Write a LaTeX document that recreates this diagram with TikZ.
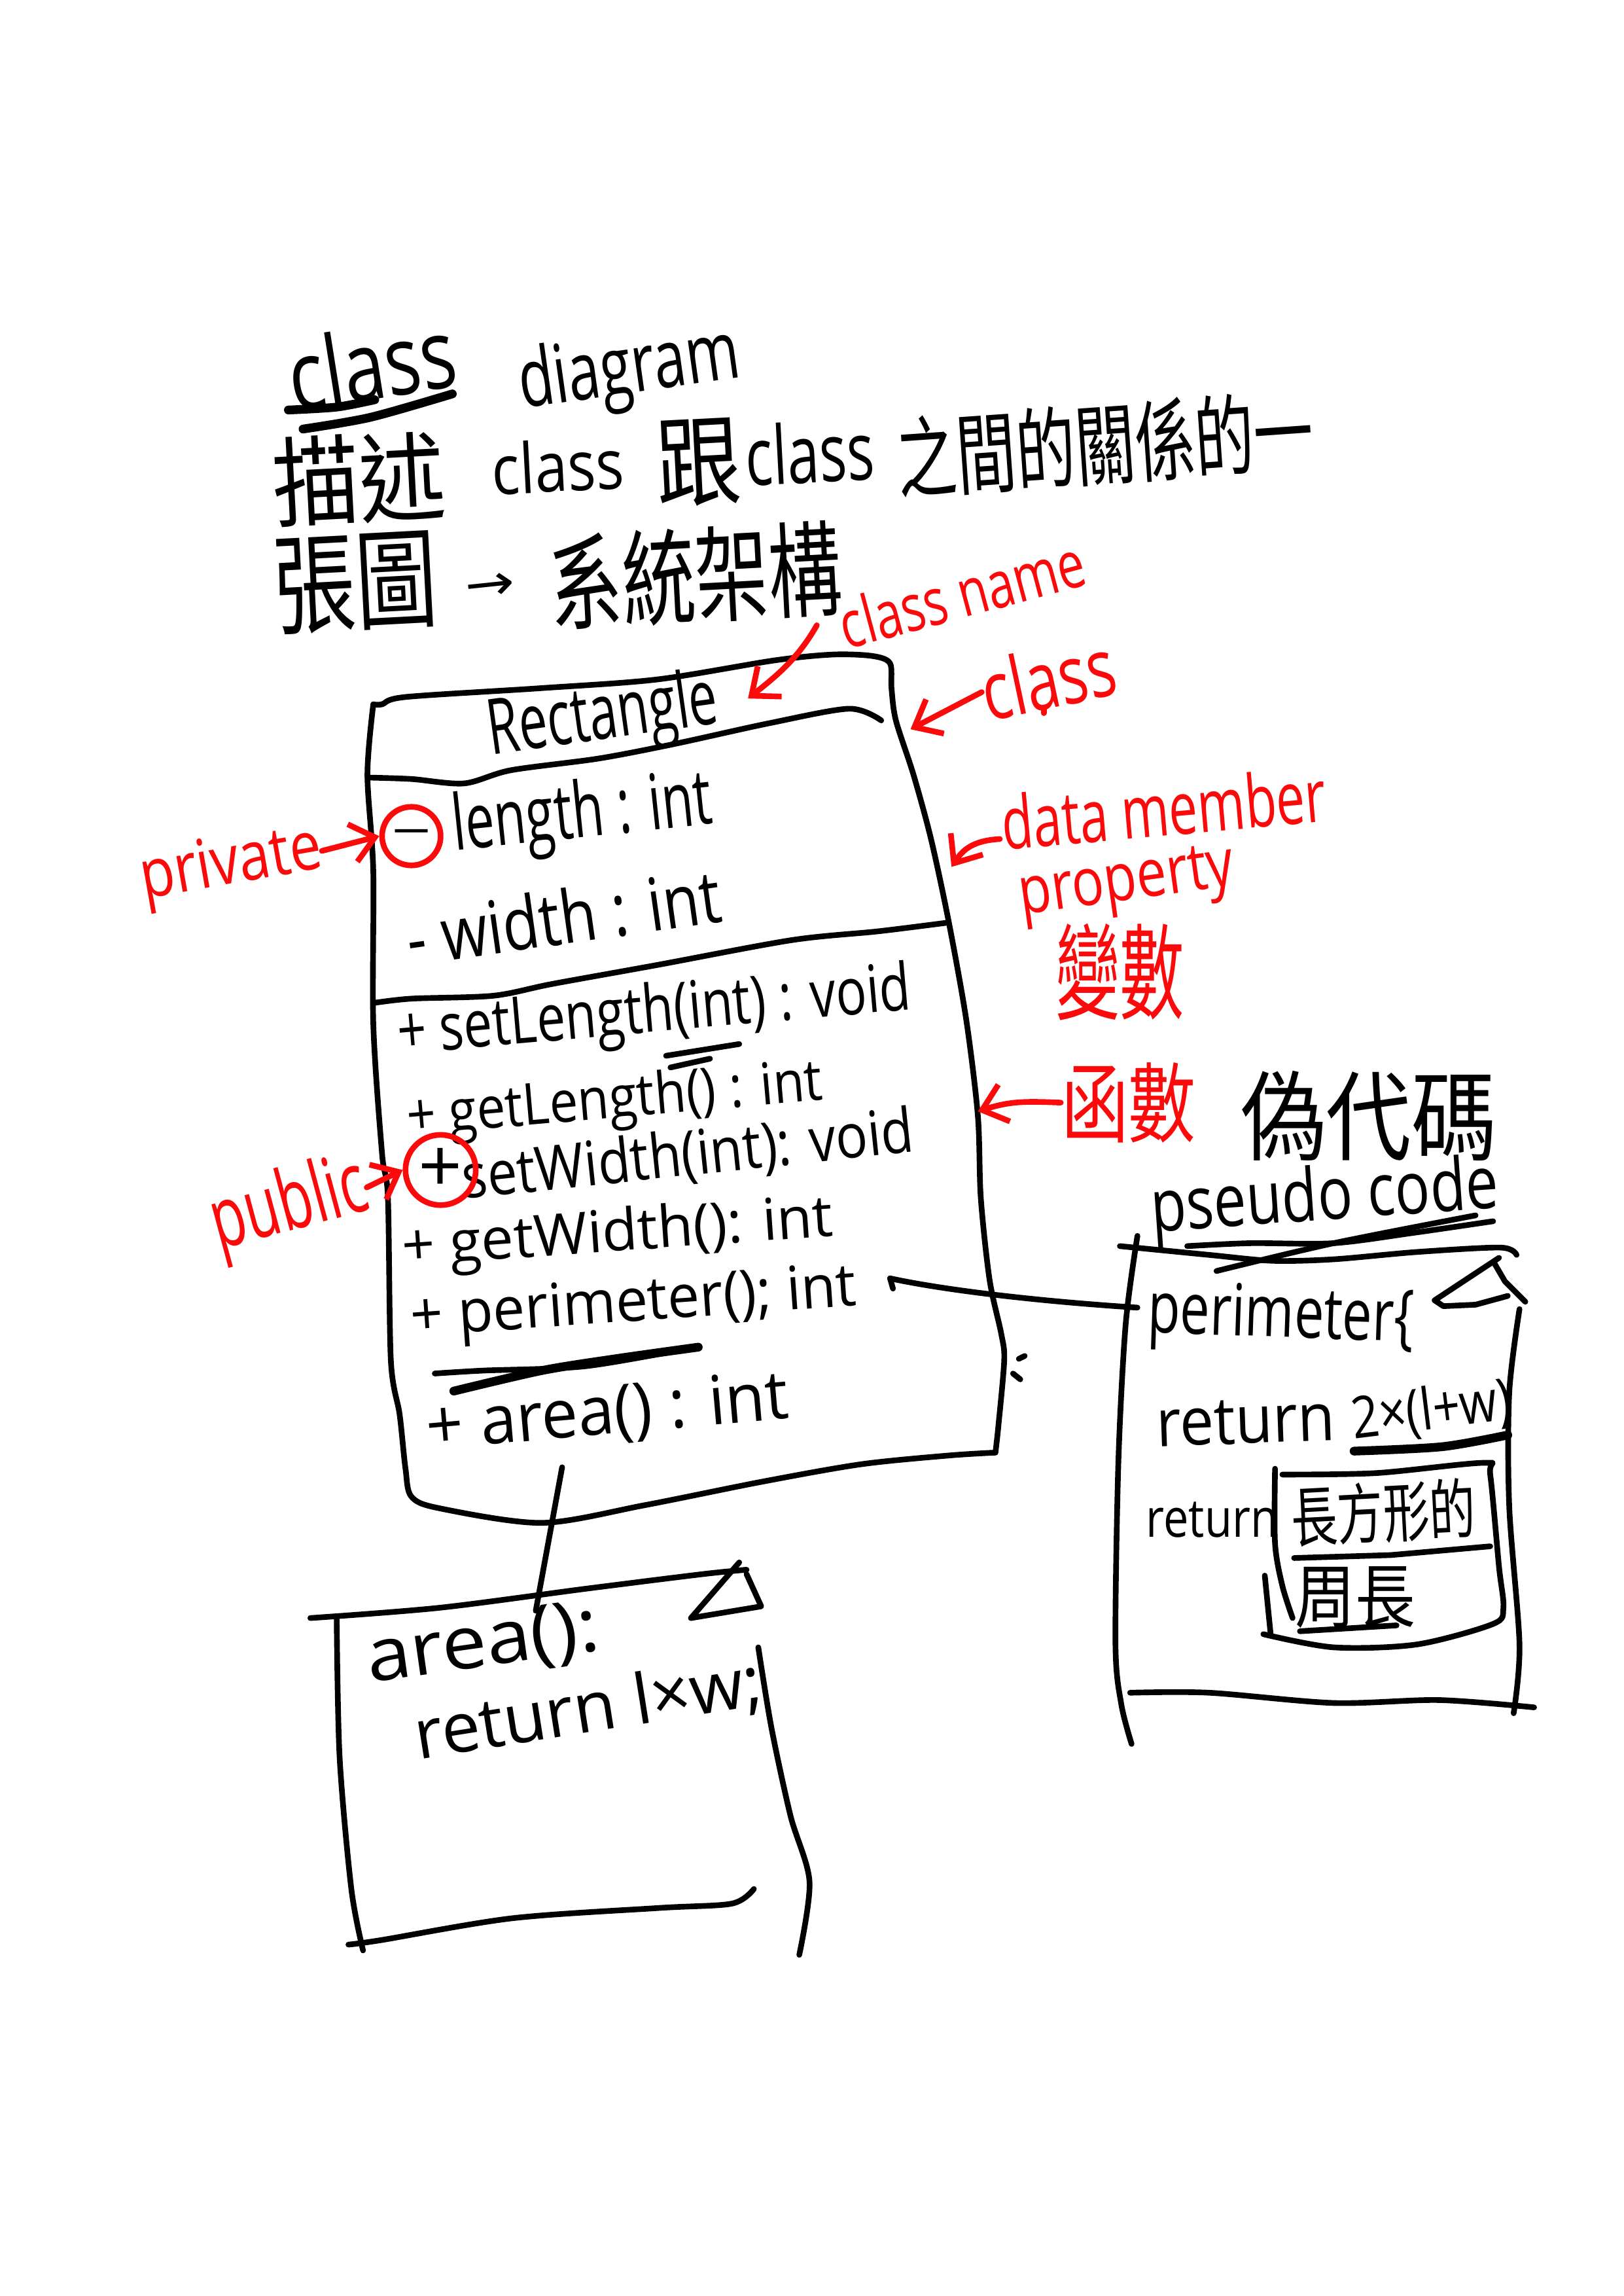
\documentclass[tikz,border=0pt]{standalone}
\usepackage{graphicx}
\usepackage{fontspec}
\setmainfont{Open Sans}
\newfontfamily\cjk{Noto Sans CJK TC}
\newfontfamily\symfont{DejaVu Sans}
\definecolor{penBlack}{RGB}{0, 0, 0}
\definecolor{penRed}{RGB}{250, 10, 10}
\usetikzlibrary{arrows.meta, shapes.geometric}
\newlength{\ux}
\setlength{\ux}{0.02cm}
\newcommand{\handfit}[3]{\resizebox{#1\ux}{#2\ux}{#3}}
\tikzset{
  pen/.style={penBlack, line width=2.2pt, line cap=round, line join=round},
  thickpen/.style={penBlack, line width=3.4pt, line cap=round},
  redpen/.style={penRed, line width=2.2pt, line cap=round, line join=round},
  redarrow/.style={redpen, -{Straight Barb[length=9pt, width=15pt, line width=2.2pt]}},
  inktext/.style={inner sep=0pt, text=penBlack},
  redtext/.style={inner sep=0pt, text=penRed},
  ringnode/.style={circle, draw=penRed, line width=2.2pt, inner sep=0pt, text=penBlack}
}
\begin{document}
\begin{tikzpicture}[x=0.02cm, y=-0.02cm]
    \useasboundingbox (0,0) rectangle (1109,1568);

    % Black handwriting
    \foreach \nm/\px/\py/\boxw/\boxh/\ang/\txt in {
      titleA/254/248/115/50/9/{class},
      titleB/430/254/152/42/8/{diagram},
      lineA/245/327/118/56/3/{\cjk 描述},
      lineB/381/318/90/36/3/{class},
      lineC/477/316/58/54/3/{\cjk 跟},
      lineD/553/309/88/42/3/{class},
      lineE/755/303/285/52/4/{\cjk 之間的關係的一},
      lineF/243/398/112/60/3/{\cjk 張圖},
      lineG/335/401/34/18/6/{\symfont →},
      lineH/475/393/200/60/3/{\cjk 系統架構},
      rectName/412/491/158/40/8/{Rectangle},
      rowA/398/558/178/40/6/{length : int},
      rowB/385/626/216/38/8/{- width : int},
      rowC/447/693/352/34/5/{+ setLength(int) : void},
      rowD/420/753/285/30/5/{+ getLength() : int},
      rowE/470/790/310/32/6/{setWidth(int): void},
      rowF/422/844/295/30/4/{+ getWidth(): int},
      rowG/433/892/305/30/4/{+ perimeter(); int},
      rowH/415/966/248/34/5/{+ area() : int},
      pseudoA/935/762/175/56/0/{\cjk 偽代碼},
      pseudoB/905/820/238/38/4/{pseudo code},
      codeA/875/901/182/36/-2/{perimeter\{},
      codeB/851/971/122/30/2/{return},
      codeC/978/964/110/30/7/{2×(l+w)},
      codeD/828/1038/90/24/0/{return},
      codeE/945/1033/126/38/3/{\cjk 長方形的},
      codeF/926/1091/82/38/0/{\cjk 周長},
      areaA/330/1124/160/36/8/{area():},
      areaB/402/1168/240/36/9/{return l×w;}%
    } {
      \node[inktext, rotate=\ang] (\nm) at (\px,\py) {\handfit{\boxw}{\boxh}{\txt}};
    }

    % Red handwriting
    \foreach \nm/\px/\py/\boxw/\boxh/\ang/\txt in {
      nameLabel/657/405/172/34/15/{class name},
      classLabel/716/463/92/42/12/{class},
      dataLabel/795/552/222/38/5/{data member},
      propLabel/770/605/148/30/8/{property},
      varLabel/765/664/88/60/0/{\cjk 變數},
      funcLabel/771/753/92/50/0/{\cjk 函數},
      privLabel/158/592/125/34/10/{private},
      pubLabel/198/825/108/44/15/{public}%
    } {
      \node[redtext, rotate=\ang] (\nm) at (\px,\py) {\handfit{\boxw}{\boxh}{\txt}};
    }

    % Visibility rings
    \node[ringnode, minimum size=40\ux] (privRing) at (281,571) {\handfit{30}{9}{-}};
    \node[ringnode, minimum size=48\ux] (pubRing) at (301,799) {\handfit{30}{30}{+}};

    % Class box
    \draw[pen] plot[smooth, tension=.5] coordinates {(255,481) (261,481) (277,476) (369,470) (449,464)
      (529,451) (569,447) (596,448) (608,453) (609,470) (612,492) (624,529) (636,573) (648,629)
      (660,696) (668,762) (670,818) (676,874) (684,911) (686,929) (682,974) (680,992)};
    \draw[pen] plot[smooth, tension=.5] coordinates {(680,992) (648,994) (588,1000) (520,1012)
      (440,1028) (370,1040) (300,1030) (281,1022) (277,1003) (273,966) (267,929) (265,818) (261,788)
      (255,699) (255,595) (251,529) (255,481)};
    \draw[pen] plot[smooth, tension=.5] coordinates {(251,531) (281,532) (317,535) (349,526) (409,518)
      (461,508) (525,494) (580,484) (602,492)};
    \draw[pen] plot[smooth, tension=.5] coordinates {(255,685) (281,682) (337,680) (377,672) (449,659)
      (541,642) (600,636) (648,630)};

    % Strokes under the rows
    \draw[pen] (455,721) -- (505,713);
    \draw[pen] (458,729) -- (485,723);
    \draw[pen] plot[smooth] coordinates {(297,938) (330,936) (400,933) (475,920)};
    \draw[thickpen] plot[smooth] coordinates {(310,950) (370,936) (420,928) (477,920)};

    % Stray marks
    \draw[pen] (696,928) -- (700,926);
    \draw[pen] (692,938) -- (697,942);
    \draw[redpen] (713,484) -- (713,487);

    % Title underlines
    \draw[thickpen] plot[smooth] coordinates {(197,280) (230,278) (256,273)};
    \draw[thickpen] plot[smooth] coordinates {(207,293) (253,285) (309,269)};

    % Pseudo code box
    \draw[pen] plot[smooth, tension=.5] coordinates {(765,851) (826,857) (869,861) (911,860) (968,855)
      (1025,852) (1036,857)};
    \draw[pen] plot[smooth, tension=.5] coordinates {(777,844) (769,904) (764,998) (762,1123) (766,1164) (773,1191)};
    \draw[pen] plot[smooth, tension=.5] coordinates {(1038,894) (1031,951) (1031,1029) (1038,1123) (1034,1170)};
    \draw[pen] plot[smooth, tension=.5] coordinates {(772,1156) (826,1156) (911,1163) (983,1161) (1048,1166)};
    \draw[pen] (1024,859) -- (980,888) -- (986,892) -- (1008,891) -- (1030,885);
    \draw[pen] (1021,863) -- (1028,875) -- (1042,889);
    \draw[pen] plot[smooth] coordinates {(811,851) (854,849) (911,849) (965,842) (1020,834)};
    \draw[pen] plot[smooth] coordinates {(831,868) (911,849) (1008,830)};
    \draw[thickpen] plot[smooth] coordinates {(925,991) (985,988) (1030,980)};

    % Inner box of the return line
    \draw[pen] plot[smooth, tension=.5] coordinates {(871,1003) (871,1054) (876,1083) (883,1105)};
    \draw[pen] plot[smooth, tension=.5] coordinates {(876,1007) (940,1006) (1014,999) (1018,1007)
      (1024,1070) (1027,1098) (1020,1109) (968,1123) (911,1125) (863,1116)};
    \draw[pen] (884,1064) -- (950,1062) -- (1018,1056);
    \draw[pen] (888,1114) -- (954,1110);
    \draw[pen] (864,1076) -- (868,1116);

    % Area box
    \draw[pen] plot[smooth, tension=.5] coordinates {(212,1105) (300,1098) (400,1085) (480,1075) (510,1072)};
    \draw[pen] plot[smooth, tension=.5] coordinates {(230,1105) (232,1200) (240,1290) (248,1332)};
    \draw[pen] plot[smooth, tension=.5] coordinates {(238,1328) (260,1325) (350,1310) (450,1303) (500,1300) (515,1290)};
    \draw[pen] plot[smooth, tension=.5] coordinates {(518,1125) (527,1180) (540,1240) (553,1285) (546,1335)};
    \draw[pen] (505,1067) -- (472,1105) -- (520,1097) -- (510,1075);

    % Connectors to the code boxes
    \coordinate (perimStart) at (608,873);
    \coordinate (pseudoEdge) at (777,893);
    \coordinate (areaStart) at (384,1002);
    \coordinate (areaEdge) at (366,1100);
    \draw[pen] (perimStart) -- ++(2,7);
    \draw[pen] (perimStart) .. controls (640,880) and (700,888) .. (pseudoEdge);
    \draw[pen] (areaStart) -- (areaEdge);

    % Red arrows
    \coordinate (nameStart) at (558,427);
    \coordinate (nameTip) at (511,477);
    \coordinate (classTip) at (622,498);
    \coordinate (dataStart) at (683,573);
    \coordinate (dataTip) at (650,592);
    \coordinate (funcTip) at (668,759);
    \draw[redarrow] (nameStart) .. controls (545,450) and (530,462) .. (nameTip);
    \draw[redarrow] (classLabel.west) -- (classTip);
    \draw[redarrow] (dataStart) .. controls (665,574) and (658,580) .. (dataTip);
    \draw[redarrow] (funcLabel.west) .. controls (700,752) and (690,752) .. (funcTip);
    \draw[redarrow] (privLabel.east) -- (privRing.west);
    \draw[redarrow] (pubLabel.east) -- (pubRing.west);
  \end{tikzpicture}
\end{document}
